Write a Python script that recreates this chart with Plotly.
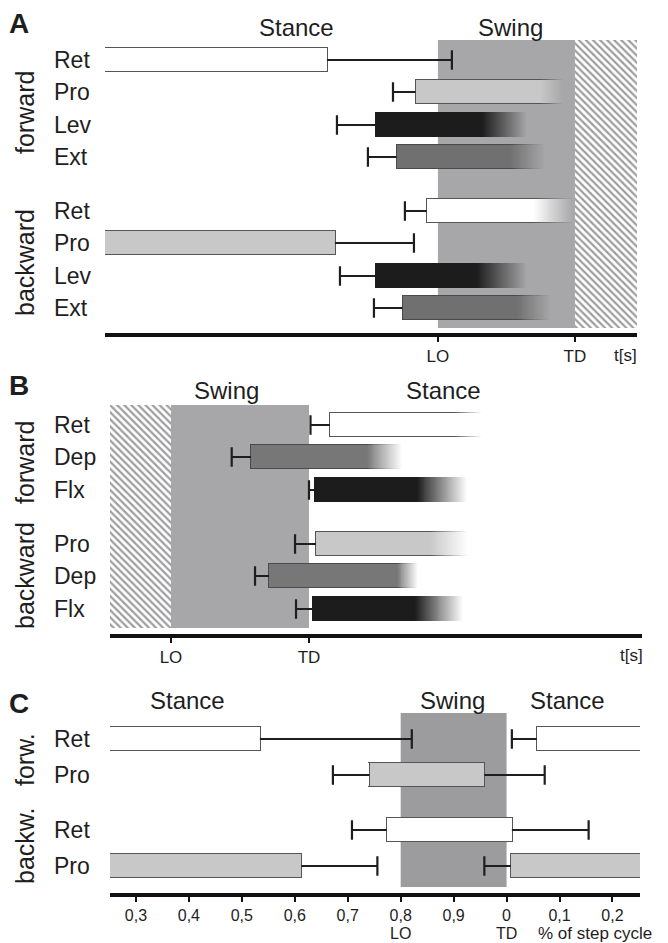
import math
import plotly.graph_objects as go

W, H = 668, 943
FONT = "Liberation Sans, Arial, Helvetica, sans-serif"
INK = "#1e1e1e"

# ---------------- DATA ----------------
# Panel A: burst timing relative to lift-off (LO = 0, TD = 1; time in units of swing duration)
A_groups = ["forward", "backward"]
A_muscles = ["Ret", "Pro", "Lev", "Ext", "Ret", "Pro", "Lev", "Ext"]
A_group = [0, 0, 0, 0, 1, 1, 1, 1]
A_on = [-2.60, -0.163, -0.453, -0.301, -0.082, -2.60, -0.453, -0.258]
A_off = [-0.810, 0.745, 0.319, 0.526, 0.693, -0.752, 0.282, 0.574]
A_fade = [None, 0.912, 0.647, 0.781, 0.985, None, 0.647, 0.826]
A_err_lo = [None, -0.328, -0.737, -0.511, -0.241, None, -0.715, -0.467]
A_err_hi = [0.102, None, None, None, None, -0.175, None, None]
A_phase = [0.0, 1.0]            # LO, TD
A_xlim = [-2.43, 1.453]
A_ticktext = ["LO", "TD"]

# Panel B: burst timing relative to lift-off (LO = 0, TD = 1)
B_groups = ["forward", "backward"]
B_muscles = ["Ret", "Dep", "Flx", "Pro", "Dep", "Flx"]
B_group = [0, 0, 0, 1, 1, 1]
B_on = [1.152, 0.580, 1.043, 1.051, 0.710, 1.027]
B_off = [2.043, 1.418, 1.780, 1.877, 1.635, 1.768]
B_fade = [2.251, 1.672, 2.143, 2.152, 1.790, 2.116]
B_err_lo = [1.011, 0.440, 1.000, 0.899, 0.609, 0.906]
B_err_hi = [None, None, None, None, None, None]
B_phase = [0.0, 1.0]
B_xlim = [-0.442, 3.411]
B_ticktext = ["LO", "TD"]

# Panel C: phase of step cycle (values > 1 belong to the next cycle)
C_groups = ["forw.", "backw."]
C_rows = ["Ret", "Pro", "Ret", "Pro"]
C_group = [0, 0, 1, 1]
C_burst_row = [0, 0, 1, 2, 3, 3]
C_on = [0.20, 1.057, 0.741, 0.774, 0.20, 1.008]
C_off = [0.534, 1.30, 0.958, 1.010, 0.612, 1.30]
C_err_lo = [None, 1.010, 0.672, 0.708, None, 0.958]
C_err_hi = [0.821, None, 1.072, 1.155, 0.756, None]
C_phase = [0.8, 1.0]
C_phase_names = ["LO", "TD"]
C_xlim = [0.251, 1.252]
C_ticks = [0.3, 0.4, 0.5, 0.6, 0.7, 0.8, 0.9, 1.0, 1.1, 1.2]
C_ticklabels = ["0,3", "0,4", "0,5", "0,6", "0,7", "0,8", "0,9", "0", "0,1", "0,2"]

# ---------------- STYLE ----------------
STYLE = {  # fill, outline
    "Ret": ("#ffffff", "#555555"),
    "Pro": ("#c8c8c8", "#555555"),
    "Lev": ("#1c1c1c", "#1c1c1c"),
    "Flx": ("#1c1c1c", "#1c1c1c"),
    "Ext": ("#707070", "#4a4a4a"),
    "Dep": ("#777777", "#4a4a4a"),
}
SWING_AB = "#a7a7a9"
SWING_C = "#9c9c9e"
BAR_H = 24

GEOM = {  # pixel layout of each panel
    "A": dict(x0=105, x1=637, top=40, shade_bot=328, axis=332.5, row0=60, pitch=32.4, gap=21.4, swing=SWING_AB),
    "B": dict(x0=110, x1=641.7, top=405, shade_bot=628, axis=633.5, row0=425, pitch=32.25, gap=22.5, swing=SWING_AB),
    "C": dict(x0=110, x1=640, top=713, shade_bot=887, axis=892.5, row0=739, pitch=36.3, gap=18, swing=SWING_C),
}


def hex2rgb(h):
    h = h.lstrip("#")
    return tuple(int(h[i:i + 2], 16) for i in (0, 2, 4))


def rgba(h, a):
    r, g, b = hex2rgb(h)
    return f"rgba({r},{g},{b},{a:.4f})"


def px(x):
    return x / W


def py(y):
    return 1 - y / H


fig = go.Figure()
annotations = []
shapes = []


def add_panel(key, xa, ya, row_groups, burst_row, muscles, on, off, fade, err_lo, err_hi,
              phase, xlim, hatch_side):
    g = GEOM[key]
    u = (xlim[1] - xlim[0]) / (g["x1"] - g["x0"])   # data units per pixel
    rows_y = [round(g["row0"] + i * g["pitch"] + grp * g["gap"]) for i, grp in enumerate(row_groups)]
    LO, TD = phase
    # swing shading
    shapes.append(dict(type="rect", xref=xa, yref=ya, x0=LO, x1=TD, y0=g["top"], y1=g["shade_bot"],
                       fillcolor=g["swing"], line=dict(width=0), layer="below"))
    # hatched neighbouring cycle
    if hatch_side is not None:
        if hatch_side == "right":
            base, length = TD, xlim[1] - TD + 0.2
        else:
            base, length = xlim[0] - 0.2, LO - xlim[0] + 0.2
        fig.add_trace(go.Bar(
            orientation="h", base=[base], x=[length], y=[(g["top"] + g["shade_bot"]) / 2],
            width=[g["shade_bot"] - g["top"]], xaxis=xa, yaxis=ya, hoverinfo="skip",
            marker=dict(color="white", line=dict(width=0),
                        pattern=dict(shape="\\", fgcolor="#9e9e9e", bgcolor="white", size=5,
                                     solidity=0.45, fillmode="replace"))))
    B_base, B_len, B_y, B_w, B_col = [], [], [], [], []

    def piece(b0, ln, yc, w, col):
        B_base.append(b0); B_len.append(ln); B_y.append(yc); B_w.append(w); B_col.append(col)

    for k, r in enumerate(burst_row):
        fill, edge = STYLE[muscles[k]]
        y = rows_y[r]
        top_c = y - BAR_H / 2 - 0.4
        bot_c = y + BAR_H / 2 - 0.4
        # solid body
        piece(on[k], off[k] - on[k], y - 0.5, BAR_H - 1, fill)
        # outline: left, top, bottom
        piece(on[k] - 0.9 * u, u, y - 0.5, BAR_H + 1, rgba(edge, 0.999))
        fe = fade[k] if fade is not None else None
        if fe is None:
            piece(on[k] - u, off[k] - on[k] + 2 * u, top_c, 1, rgba(edge, 0.999))
            piece(on[k] - u, off[k] - on[k] + 2 * u, bot_c, 1, rgba(edge, 0.999))
            piece(off[k] + 0.1 * u, u, y - 0.5, BAR_H + 1, rgba(edge, 0.999))
        else:
            piece(on[k] - u, off[k] - on[k] + u, top_c, 1, rgba(edge, 0.999))
            piece(on[k] - u, off[k] - on[k] + u, bot_c, 1, rgba(edge, 0.999))
            nseg = max(4, int(math.ceil((fe - off[k]) / u)))
            seg = (fe - off[k]) / nseg
            for i in range(nseg):
                a = 1 - (i + 0.5) / nseg
                b0 = off[k] + i * seg
                piece(b0, seg, y - 0.5, BAR_H - 1, rgba(fill, a))
                piece(b0, seg, top_c, 1, rgba(edge, a))
                piece(b0, seg, bot_c, 1, rgba(edge, a))
    fig.add_trace(go.Bar(orientation="h", base=B_base, x=B_len, y=B_y, width=B_w,
                         xaxis=xa, yaxis=ya, hoverinfo="skip",
                         marker=dict(color=B_col, line=dict(width=0))))
    # error bars
    lx, ly, cx, cy = [], [], [], []
    for k, r in enumerate(burst_row):
        y = rows_y[r]
        if err_lo[k] is not None:
            lx += [err_lo[k], on[k], None]; ly += [y, y, None]
            cx.append(err_lo[k]); cy.append(y)
        if err_hi[k] is not None:
            lx += [off[k], err_hi[k], None]; ly += [y, y, None]
            cx.append(err_hi[k]); cy.append(y)
    fig.add_trace(go.Scatter(x=lx, y=ly, mode="lines", line=dict(color=INK, width=2.2),
                             xaxis=xa, yaxis=ya, hoverinfo="skip"))
    fig.add_trace(go.Scatter(x=cx, y=cy, mode="markers", xaxis=xa, yaxis=ya, hoverinfo="skip",
                             marker=dict(symbol="line-ns", size=14, color=INK,
                                         line=dict(width=2.2, color=INK))))
    return rows_y


def label(text, x, y, size, **kw):
    annotations.append(dict(text=text, x=px(x), y=py(y), xref="paper", yref="paper",
                            showarrow=False, font=dict(size=size, family=FONT, color=INK), **kw))


# ---- Panel A
rA = add_panel("A", "x", "y", A_group, list(range(len(A_muscles))), A_muscles, A_on, A_off, A_fade,
               A_err_lo, A_err_hi, A_phase, A_xlim, "right")
# ---- Panel B
rB = add_panel("B", "x2", "y2", B_group, list(range(len(B_muscles))), B_muscles, B_on, B_off, B_fade,
               B_err_lo, B_err_hi, B_phase, B_xlim, "left")
# ---- Panel C
C_burst_muscle = [C_rows[r] for r in C_burst_row]
rC = add_panel("C", "x3", "y3", C_group, C_burst_row, C_burst_muscle, C_on, C_off, None,
               C_err_lo, C_err_hi, C_phase, C_xlim, None)

# row labels
for names, rows in ((A_muscles, rA), (B_muscles, rB), (C_rows, rC)):
    for n, y in zip(names, rows):
        label(n, 52, y, 23, xanchor="left", yanchor="middle")

# group labels (rotated)
for grp, ys in ((A_groups, (112, 262)), (B_groups, (462, 575)), (C_groups, (759, 846))):
    for t, y in zip(grp, ys):
        label(t, 25, y, 25, textangle=-90, xanchor="center", yanchor="middle")

# panel letters
for t, y in (("A", 23), ("B", 385), ("C", 703)):
    label(f"<b>{t}</b>", 19, y, 28, xanchor="center", yanchor="middle")

# phase titles
for t, x, y in (("Stance", 296, 27), ("Swing", 511, 27),
                ("Swing", 226, 391), ("Stance", 443, 391),
                ("Stance", 187, 700), ("Swing", 452, 700), ("Stance", 567, 700)):
    label(t, x, y, 24, xanchor="center", yanchor="middle")

# axis unit labels and LO/TD markers of panel C (positioned on the C axis)
label("t[s]", 625, 355, 17, xanchor="center", yanchor="middle")
label("t[s]", 631, 655, 17, xanchor="center", yanchor="middle")
gC = GEOM["C"]
for v, name in zip(C_phase, C_phase_names):
    xpix = gC["x0"] + (v - C_xlim[0]) / (C_xlim[1] - C_xlim[0]) * (gC["x1"] - gC["x0"])
    label(name, xpix, 933, 16, xanchor="center", yanchor="middle", borderpad=0)
label("% of step cycle", 595, 933, 17, xanchor="center", yanchor="middle", borderpad=0)


def xaxis(key, rng, tv, tt, fs):
    g = GEOM[key]
    return dict(domain=[px(g["x0"]), px(g["x1"])], range=rng, showline=True, linewidth=4,
                linecolor="#111111", ticks="outside", ticklen=5, tickwidth=1.5, tickcolor="#111111",
                tickvals=tv, ticktext=tt, tickfont=dict(size=fs, family=FONT, color=INK),
                showgrid=False, zeroline=False, fixedrange=True)


def yaxis(key):
    g = GEOM[key]
    return dict(domain=[py(g["axis"]), py(g["top"])], range=[g["axis"], g["top"]],
                visible=False, showgrid=False, zeroline=False, fixedrange=True)


fig.update_layout(
    width=W, height=H, autosize=False, margin=dict(l=0, r=0, t=0, b=0),
    paper_bgcolor="white", plot_bgcolor="rgba(0,0,0,0)",
    barmode="overlay", bargap=0, bargroupgap=0, showlegend=False,
    font=dict(family=FONT, color=INK),
    xaxis=dict(xaxis("A", A_xlim, A_phase, A_ticktext, 17), anchor="y"),
    yaxis=dict(yaxis("A"), anchor="x"),
    xaxis2=dict(xaxis("B", B_xlim, B_phase, B_ticktext, 17), anchor="y2"),
    yaxis2=dict(yaxis("B"), anchor="x2"),
    xaxis3=dict(xaxis("C", C_xlim, C_ticks, C_ticklabels, 16), anchor="y3"),
    yaxis3=dict(yaxis("C"), anchor="x3"),
    annotations=annotations, shapes=shapes,
)

fig.write_html("out.html")
